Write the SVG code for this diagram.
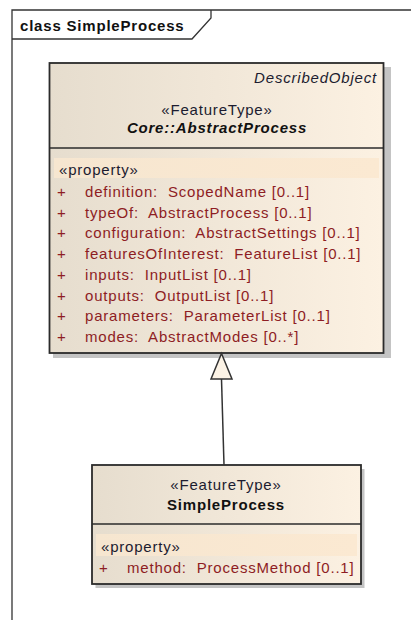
<svg xmlns="http://www.w3.org/2000/svg" width="411" height="620" viewBox="0 0 411 620" xml:space="preserve">
  <defs>
    <linearGradient id="classFill" x1="0" y1="0" x2="1" y2="0">
      <stop offset="0" stop-color="#e6ddce"/>
      <stop offset="1" stop-color="#fcf1e2"/>
    </linearGradient>
    <linearGradient id="bandFill" x1="0" y1="0" x2="1" y2="0">
      <stop offset="0" stop-color="#f6e6d0"/>
      <stop offset="1" stop-color="#fbe9d2"/>
    </linearGradient>
  </defs>
  <style>
    text { font-family: "Liberation Sans", Arial, sans-serif; font-size: 15px; letter-spacing: 0.8px; white-space: pre; }
    .frame { fill: none; stroke: #333333; stroke-width: 1.3; }
    .shadow { fill: #c4c4c4; }
    .box { fill: url(#classFill); stroke: #2b2b2b; stroke-width: 1.8; }
    .sep { stroke: #2b2b2b; stroke-width: 1.5; }
    .band { fill: url(#bandFill); }
    .title { font-weight: bold; fill: #111111; }
    .stereo { fill: #1c1c30; }
    .name { font-weight: bold; fill: #111111; }
    .abstract { font-style: italic; }
    .attr { fill: #8e1d24; }
    .conn { fill: none; stroke: #333333; stroke-width: 1.5; }
    .gen { fill: #fcf3e6; stroke: #333333; stroke-width: 1.5; stroke-linejoin: miter; }
  </style>
  <!-- diagram frame with name tab -->
  <g id="frame">
    <path class="frame" d="M12,620 V10 H411"/>
    <path class="frame" d="M12,39 H192 L211,18 V10"/>
    <text class="title" x="20" y="31">class SimpleProcess</text>
  </g>
  <!-- Core::AbstractProcess -->
  <g id="AbstractProcess">
    <rect class="shadow" x="53" y="67" width="338" height="291"/>
    <rect class="box" x="49.5" y="63" width="334" height="290"/>
    <line class="sep" x1="49.5" y1="148" x2="383.5" y2="148"/>
    <text class="stereo abstract" x="377" y="83" text-anchor="end">DescribedObject</text>
    <text class="stereo" x="217" y="115" text-anchor="middle">«FeatureType»</text>
    <text class="name abstract" x="217" y="133" text-anchor="middle">Core::AbstractProcess</text>
    <rect class="band" x="54" y="158" width="325" height="20"/>
    <text class="stereo" x="59" y="175">«property»</text>
    <g class="attr">
      <text x="57" y="197">+</text><text x="85" y="197">definition:  ScopedName [0..1]</text>
      <text x="57" y="217.7">+</text><text x="85" y="217.7">typeOf:  AbstractProcess [0..1]</text>
      <text x="57" y="238.4">+</text><text x="85" y="238.4">configuration:  AbstractSettings [0..1]</text>
      <text x="57" y="259.1">+</text><text x="85" y="259.1">featuresOfInterest:  FeatureList [0..1]</text>
      <text x="57" y="279.8">+</text><text x="85" y="279.8">inputs:  InputList [0..1]</text>
      <text x="57" y="300.5">+</text><text x="85" y="300.5">outputs:  OutputList [0..1]</text>
      <text x="57" y="321.2">+</text><text x="85" y="321.2">parameters:  ParameterList [0..1]</text>
      <text x="57" y="341.9">+</text><text x="85" y="341.9">modes:  AbstractModes [0..*]</text>
    </g>
  </g>
  <!-- SimpleProcess -->
  <g id="SimpleProcess">
    <rect class="shadow" x="95.5" y="469" width="269" height="119"/>
    <rect class="box" x="92" y="465" width="269" height="119"/>
    <line class="sep" x1="92" y1="524" x2="361" y2="524"/>
    <text class="stereo" x="226" y="490" text-anchor="middle">«FeatureType»</text>
    <text class="name" x="226" y="510" text-anchor="middle">SimpleProcess</text>
    <rect class="band" x="96" y="534" width="261" height="22"/>
    <text class="stereo" x="101" y="552">«property»</text>
    <g class="attr">
      <text x="99" y="573">+</text><text x="127" y="573">method:  ProcessMethod [0..1]</text>
    </g>
  </g>
  <!-- generalization: SimpleProcess specializes Core::AbstractProcess -->
  <g id="connectors">
    <path class="conn" d="M224,465 L221.5,379"/>
    <path class="gen" d="M221.5,353.5 L232,379 L211,379 Z"/>
  </g>
</svg>
